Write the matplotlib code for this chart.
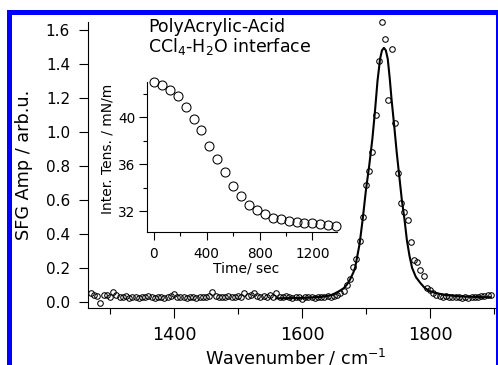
import matplotlib
matplotlib.use("Agg")
import matplotlib.pyplot as plt
from matplotlib.patches import Rectangle
from matplotlib.ticker import MultipleLocator, FormatStrFormatter


# SFG spectrum, measured points
wavenumber = [
    1270, 1275, 1280, 1285, 1290, 1295, 1300, 1305, 1310, 1315,
    1320, 1325, 1330, 1335, 1340, 1345, 1350, 1355, 1360, 1365,
    1370, 1375, 1380, 1385, 1390, 1395, 1400, 1405, 1410, 1415,
    1420, 1425, 1430, 1435, 1440, 1445, 1450, 1455, 1460, 1465,
    1470, 1475, 1480, 1485, 1490, 1495, 1500, 1505, 1510, 1515,
    1520, 1525, 1530, 1535, 1540, 1545, 1550, 1555, 1560, 1565,
    1570, 1575, 1580, 1585, 1590, 1595, 1600, 1605, 1610, 1615,
    1620, 1625, 1630, 1635, 1640, 1645, 1650, 1655, 1660, 1665,
    1670, 1675, 1680, 1685, 1690, 1695, 1700, 1705, 1710, 1715,
    1720, 1725, 1730, 1735, 1740, 1745, 1750, 1755, 1760, 1765,
    1770, 1775, 1780, 1785, 1790, 1795, 1800, 1805, 1810, 1815,
    1820, 1825, 1830, 1835, 1840, 1845, 1850, 1855, 1860, 1865,
    1870, 1875, 1880, 1885, 1890, 1895,
]
sfg_amp = [
    0.050, 0.042, 0.035, -0.005, 0.040, 0.038, 0.030, 0.058, 0.040, 0.030,
    0.025, 0.032, 0.020, 0.028, 0.030, 0.022, 0.030, 0.028, 0.033, 0.025,
    0.022, 0.030, 0.026, 0.020, 0.028, 0.035, 0.045, 0.030, 0.025, 0.028,
    0.022, 0.030, 0.026, 0.020, 0.025, 0.030, 0.028, 0.035, 0.058, 0.035,
    0.025, 0.030, 0.028, 0.032, 0.025, 0.030, 0.035, 0.030, 0.050, 0.032,
    0.038, 0.052, 0.035, 0.028, 0.032, 0.025, 0.040, 0.030, 0.050, 0.030,
    0.025, 0.032, 0.028, 0.022, 0.030, 0.025, 0.018, 0.028, 0.025, 0.030,
    0.022, 0.028, 0.030, 0.026, 0.032, 0.030, 0.035, 0.040, 0.050, 0.065,
    0.100, 0.135, 0.205, 0.250, 0.360, 0.500, 0.690, 0.770, 0.880, 1.100,
    1.420, 1.650, 1.550, 1.185, 1.490, 1.050, 0.760, 0.580, 0.530, 0.480,
    0.350, 0.248, 0.236, 0.185, 0.150, 0.078, 0.068, 0.050, 0.042, 0.035,
    0.030, 0.032, 0.028, 0.030, 0.025, 0.028, 0.024, 0.026, 0.022, 0.025,
    0.028, 0.030, 0.032, 0.035, 0.038, 0.040,
]

# fitted line
fit_wn = [
    1560, 1600, 1630, 1645, 1652, 1658, 1665, 1670, 1675, 1680,
    1683, 1686, 1690, 1695, 1700, 1705, 1710, 1714, 1718, 1722,
    1725, 1728, 1731, 1734, 1737, 1740, 1744, 1748, 1752, 1756,
    1760, 1764, 1768, 1772, 1778, 1785, 1792, 1800, 1810, 1825,
    1845, 1870, 1895,
]
fit_amp = [
    0.020, 0.022, 0.028, 0.038, 0.050, 0.062, 0.079, 0.100, 0.130, 0.170,
    0.200, 0.260, 0.340, 0.490, 0.660, 0.800, 0.960, 1.120, 1.300, 1.430,
    1.480, 1.495, 1.480, 1.430, 1.320, 1.190, 1.040, 0.880, 0.740, 0.600,
    0.490, 0.360, 0.270, 0.200, 0.145, 0.110, 0.080, 0.062, 0.050, 0.040,
    0.032, 0.028, 0.026,
]

# inset: interfacial tension vs time
time_sec = [0, 60, 120, 180, 240, 300, 360, 420, 480, 540, 600, 660,
            720, 780, 840, 900, 960, 1020, 1080, 1140, 1200, 1260, 1320, 1380]
tension = [42.98, 42.76, 42.31, 41.80, 40.84, 39.88, 38.89, 37.56, 36.43, 35.31,
           34.17, 33.30, 32.53, 32.08, 31.75, 31.46, 31.35, 31.18, 31.12, 31.03,
           31.03, 30.90, 30.84, 30.78]


fig = plt.figure(figsize=(4.98, 3.65), dpi=100)

# blue frame round the picture
blue = (0, 0, 1)
fig.add_artist(Rectangle((7 / 498, 0), 5 / 498, 355 / 365, transform=fig.transFigure,
                         color=blue, lw=0))
fig.add_artist(Rectangle((7 / 498, 350 / 365), 491 / 498, 5 / 365, transform=fig.transFigure,
                         color=blue, lw=0))
fig.add_artist(Rectangle((496 / 498, 0), 2 / 498, 355 / 365, transform=fig.transFigure,
                         color=blue, lw=0))

# main spectrum
ax = fig.add_axes([88 / 498, 57.3 / 365, 407.7 / 498, 286 / 365])
ax.plot(wavenumber, sfg_amp, linestyle="none", marker="o", markersize=4.0,
        markerfacecolor="none", markeredgecolor="black", markeredgewidth=0.75,
        clip_on=False)
ax.plot(fit_wn, fit_amp, color="black", linewidth=1.5)
ax.set_xlim(1265.6, 1902.7)
ax.set_ylim(-0.0353, 1.649)

ax.spines["top"].set_visible(False)
ax.spines["right"].set_visible(False)
for s in ["left", "bottom"]:
    ax.spines[s].set_linewidth(0.8)

ax.xaxis.set_major_locator(MultipleLocator(200))
ax.xaxis.set_minor_locator(MultipleLocator(100))
ax.yaxis.set_major_locator(MultipleLocator(0.2))
ax.yaxis.set_major_formatter(FormatStrFormatter("%.1f"))
ax.tick_params(axis="x", which="major", direction="out", length=7.5, width=0.8,
               labelsize=12.7, pad=6)
ax.tick_params(axis="x", which="minor", direction="out", length=4.5, width=0.8)
ax.tick_params(axis="y", which="major", direction="out", length=6.5, width=0.8,
               labelsize=11, pad=6.5)

ax.set_xlabel("Wavenumber / cm$^{-1}$", fontsize=12.7)
ax.xaxis.set_label_coords(0.51, -0.138)
ax.xaxis.label.set_va("top")
ax.set_ylabel("SFG Amp / arb.u.", fontsize=12.7)
ax.yaxis.set_label_coords(-0.135, 0.5)

fig.text(148 / 498, (365 - 31.7) / 365, "PolyAcrylic-Acid", fontsize=12.5,
         va="baseline", ha="left")
fig.text(148 / 498, (365 - 51.7) / 365, r"CCl$_4$-H$_2$O interface", fontsize=12.5,
         va="baseline", ha="left")

# inset
ins = fig.add_axes([147.3 / 498, 133.3 / 365, 189.4 / 498, 149.7 / 365])
ins.patch.set_alpha(0)
ins.plot(time_sec, tension, linestyle="none", marker="o", markersize=6.5,
         markerfacecolor="none", markeredgecolor="black", markeredgewidth=0.75,
         clip_on=False)
ins.set_xlim(-50, 1384)
ins.set_ylim(30.27, 42.98)
ins.spines["top"].set_visible(False)
ins.spines["right"].set_visible(False)
for s in ["left", "bottom"]:
    ins.spines[s].set_linewidth(0.8)

ins.xaxis.set_major_locator(MultipleLocator(400))
ins.xaxis.set_minor_locator(MultipleLocator(200))
ins.yaxis.set_major_locator(MultipleLocator(4))
ins.yaxis.set_minor_locator(MultipleLocator(2))
ins.tick_params(axis="x", which="major", direction="out", length=5.5, width=0.8,
                labelsize=9.8, pad=5.5)
ins.tick_params(axis="x", which="minor", direction="out", length=2.8, width=0.8)
ins.tick_params(axis="y", which="major", direction="out", length=5.5, width=0.8,
                labelsize=9.8, pad=3)
ins.tick_params(axis="y", which="minor", direction="out", length=2.8, width=0.8)

ins.set_xlabel("Time/ sec", fontsize=10)
ins.xaxis.set_label_coords(0.52, -0.2)
ins.xaxis.label.set_va("top")
ins.set_ylabel("Inter. Tens. / mN/m", fontsize=10)
ins.yaxis.set_label_coords(-0.175, 0.55)

fig.savefig("out.png", dpi=100)
